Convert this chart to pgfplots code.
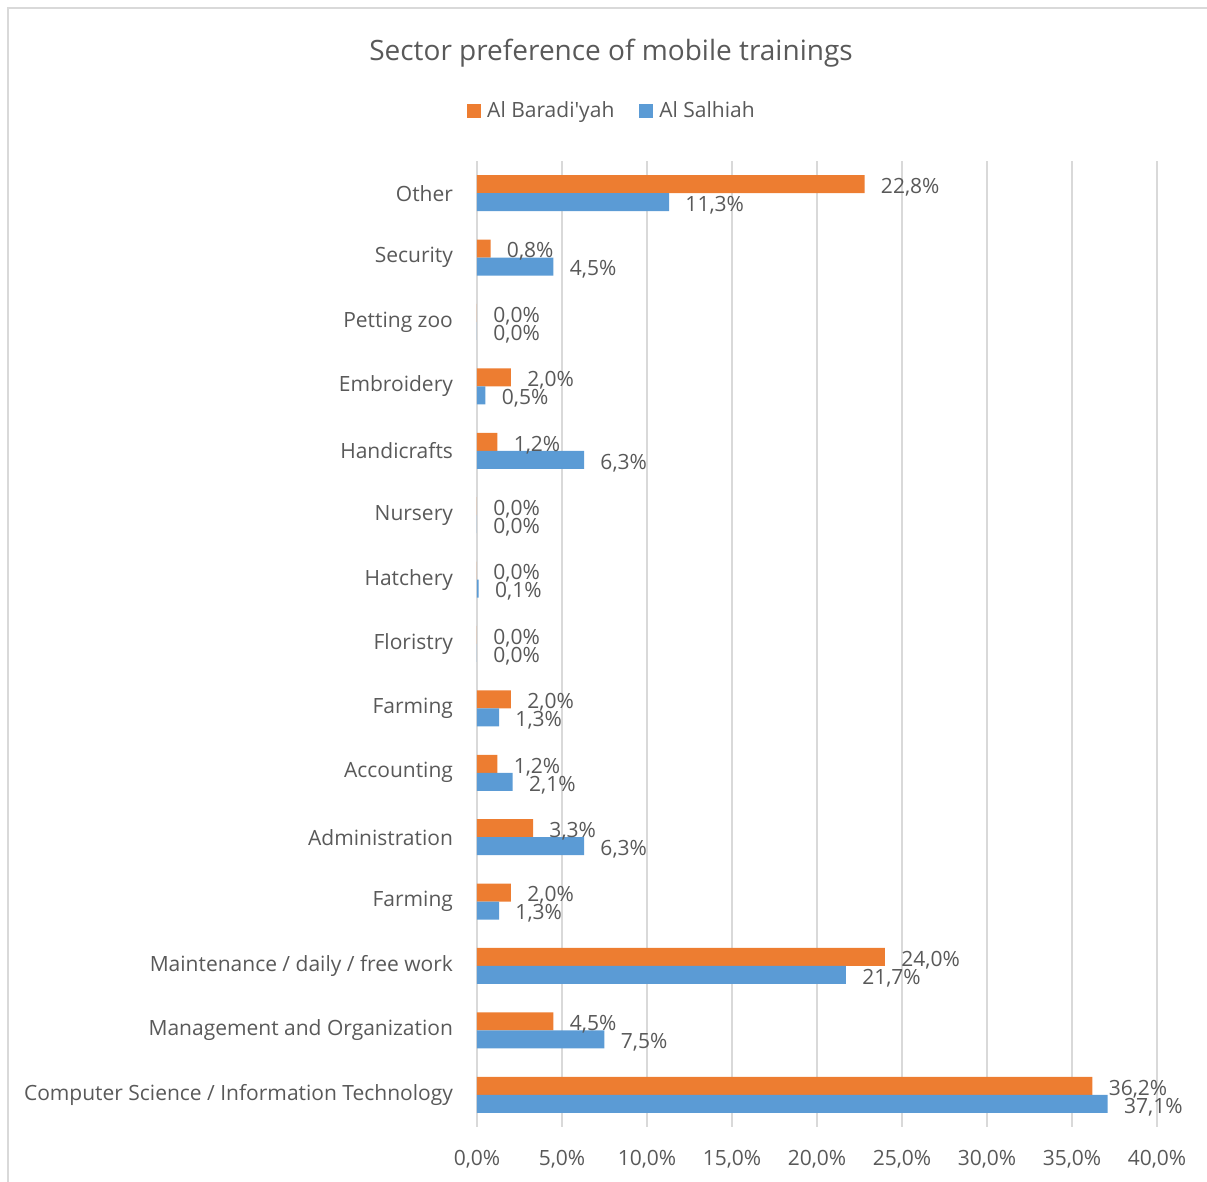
\documentclass[border=0pt]{standalone}
\usepackage{pgfplots}
\pgfplotsset{compat=1.18}
\usepackage{fontspec}
\setmainfont{Open Sans}
\definecolor{orng}{HTML}{ED7D31}
\definecolor{blu}{HTML}{5B9BD5}
\definecolor{txt}{HTML}{595959}
\definecolor{grd}{HTML}{D9D9D9}

\begin{document}
\begin{tikzpicture}
% 1 px of the reference = 0.5pt
\path[use as bounding box] (0,0) rectangle (603.5pt,591pt);
\draw[grd, line width=0.6pt] (4pt,-5pt) -- (4pt,587pt) -- (610pt,587pt);
\node[text=txt, font=\fontsize{14}{16}\selectfont] at (305.5pt,564.5pt) {Sector preference of mobile trainings};
\begin{axis}[
    at={(238.5pt,27.5pt)}, anchor=south west,
    scale only axis, width=340pt, height=483pt,
    xbar,
    xmin=0, xmax=40, ymin=-0.5, ymax=14.5,
    clip=false,
    axis line style={draw=none},
    tick style={draw=none},
    major tick length=0pt,
    xmajorgrids,
    grid style={grd, line width=0.9pt},
    /pgf/number format/assume math mode=true,
    xtick={0,5,...,40},
    xticklabel={\pgfmathprintnumber[fixed,fixed zerofill,precision=1,use comma]{\tick}\%},
    ytick={0,...,14},
    yticklabels={Computer Science / Information Technology, Management and Organization, Maintenance / daily / free work, Farming, Administration, Accounting, Farming, Floristry, Hatchery, Nursery, Handicrafts, Embroidery, Petting zoo, Security, Other},
    tick label style={text=txt, font=\fontsize{10.5}{12}\selectfont},
    xticklabel style={yshift=-8pt},
    yticklabel style={xshift=-8.5pt},
    bar width=9pt,
    point meta=x,
    nodes near coords={\pgfmathprintnumber[fixed,fixed zerofill,precision=1,use comma]{\pgfplotspointmeta}\%},
    nodes near coords style={text=txt, font=\fontsize{10.5}{12}\selectfont, anchor=west, inner sep=0pt, xshift=8pt, yshift=-1.5pt},
    legend style={at={(0.2,1.052)}, anchor=center, draw=none, fill=none,
        legend columns=-1, font=\fontsize{10.5}{12}\selectfont, text=txt,
        /tikz/every odd column/.append style={column sep=1pt},
        /tikz/every even column/.append style={column sep=10.5pt}},
    legend image code/.code={\fill[#1] (0pt,-3.5pt) rectangle (7pt,3.5pt);},
]
\addplot[bar shift=4.5pt, fill=orng, draw=none] coordinates {
    (36.2,0) (4.5,1) (24.0,2) (2.0,3) (3.3,4) (1.2,5) (2.0,6) (0.0,7)
    (0.0,8) (0.0,9) (1.2,10) (2.0,11) (0.0,12) (0.8,13) (22.8,14)
};
\addplot[bar shift=-4.5pt, fill=blu, draw=none] coordinates {
    (37.1,0) (7.5,1) (21.7,2) (1.3,3) (6.3,4) (2.1,5) (1.3,6) (0.0,7)
    (0.1,8) (0.0,9) (6.3,10) (0.5,11) (0.0,12) (4.5,13) (11.3,14)
};
\legend{Al Baradi\textquotesingle yah, Al Salhiah}
\end{axis}
\end{tikzpicture}
\end{document}
